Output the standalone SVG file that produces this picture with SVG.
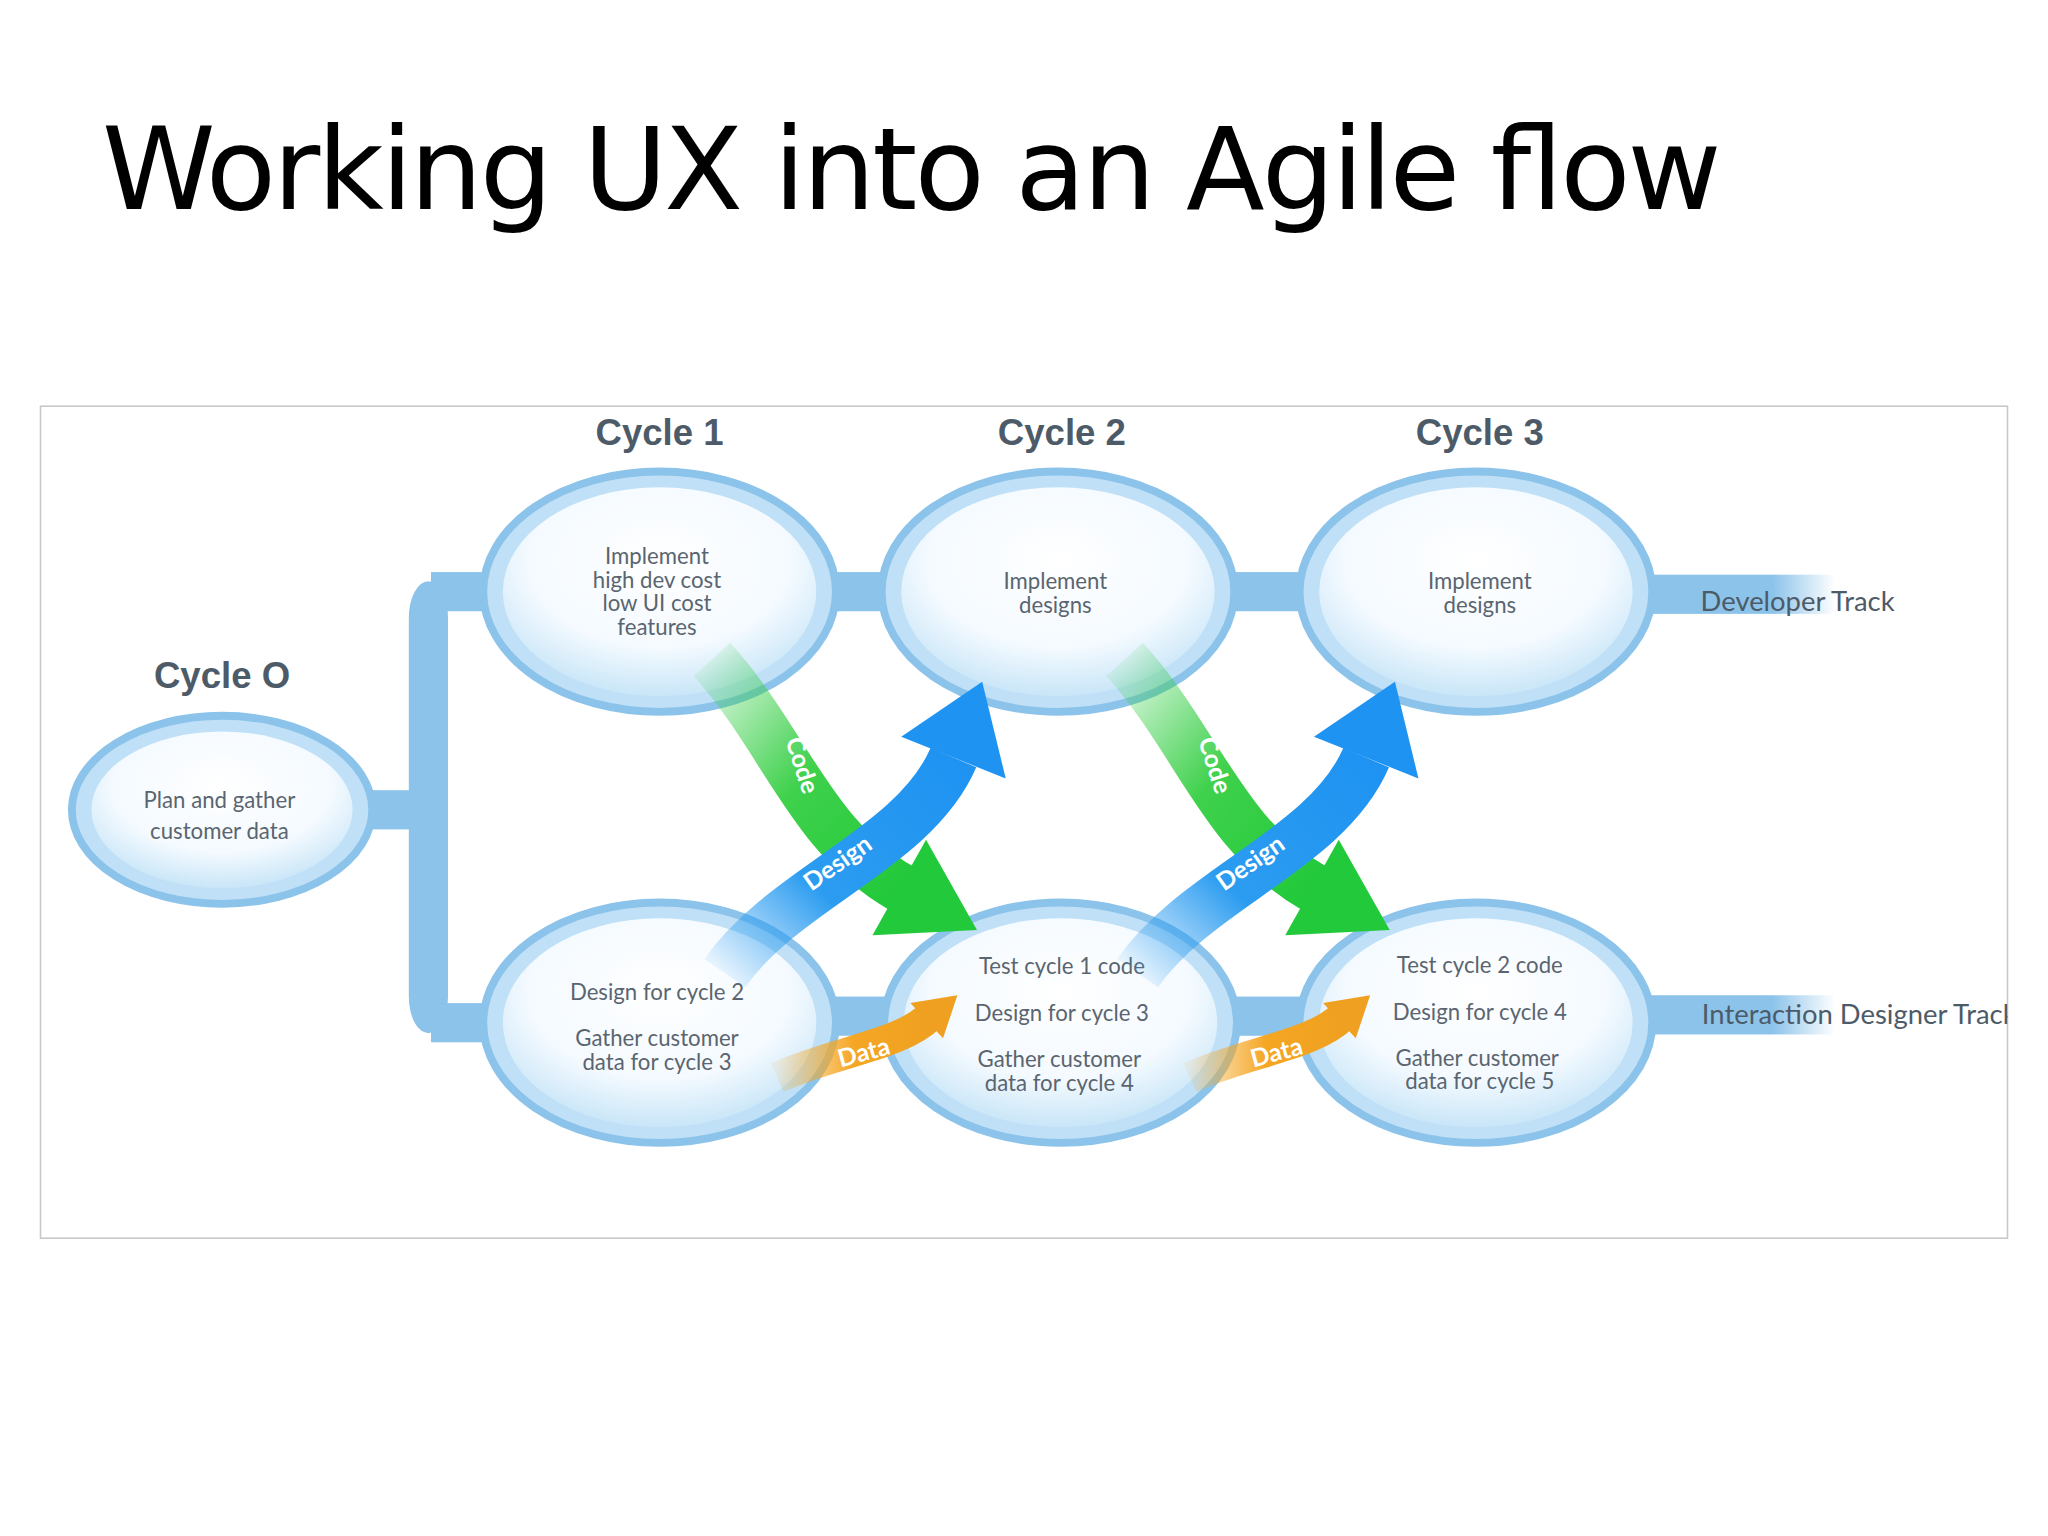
<svg xmlns="http://www.w3.org/2000/svg" width="2048" height="1536" viewBox="0 0 2048 1536">
<defs>
<radialGradient id="eg" cx="0.5" cy="0.35" r="0.7">
<stop offset="0" stop-color="#ffffff"/><stop offset="0.6" stop-color="#f4faff"/><stop offset="1" stop-color="#bfe1f6"/>
</radialGradient>
<linearGradient id="gg" x1="0" y1="0" x2="1" y2="1"><stop offset="0" stop-color="#2ecc40" stop-opacity="0.1"/><stop offset="0.5" stop-color="#3fd14c"/><stop offset="1" stop-color="#22c93a"/></linearGradient>
<linearGradient id="bg" x1="0" y1="1" x2="1" y2="0"><stop offset="0" stop-color="#2b9cf0" stop-opacity="0.1"/><stop offset="0.4" stop-color="#2b9cf0"/><stop offset="1" stop-color="#1f93f2"/></linearGradient>
<linearGradient id="og" x1="0" y1="0" x2="1" y2="0"><stop offset="0" stop-color="#f5a623" stop-opacity="0.1"/><stop offset="0.5" stop-color="#f5a623"/><stop offset="1" stop-color="#f0a020"/></linearGradient>
<linearGradient id="tg" x1="0" y1="0" x2="1" y2="0"><stop offset="0" stop-color="#8cc3ea"/><stop offset="0.7" stop-color="#8cc3ea"/><stop offset="1" stop-color="#8cc3ea" stop-opacity="0"/></linearGradient>
<clipPath id="fc"><rect x="31" y="311" width="1506" height="637"/></clipPath>
<style>
.bar{fill:#8cc3ea}
.eo{fill:#bfe0f6;stroke:#8cc3ea;stroke-width:6}
.ei{fill:url(#eg)}
.cy{font-family:"Liberation Sans",Arial,sans-serif;font-weight:bold;font-size:28px;fill:#4d5b69;text-anchor:middle}
.t{font-family:Lato,"Open Sans",sans-serif;font-size:17px;fill:#5a6570;text-anchor:middle}
.al{font-family:Lato,"Open Sans",sans-serif;font-weight:bold;font-size:19px;fill:#ffffff;text-anchor:middle}
</style>
</defs>
<rect width="2048" height="1536" fill="#ffffff"/>
<g transform="scale(1.30612)">
<text x="78" y="160" font-family="'DejaVu Sans',sans-serif" font-size="88" textLength="1240" fill="#000">Working UX into an Agile flow</text>
<rect x="31" y="311" width="1506" height="637" fill="#ffffff" stroke="#c8c8c8" stroke-width="1.2"/>
<g id="connectors">
<rect class="bar" x="280" y="605" width="50" height="30"/>
<rect class="bar" x="313" y="445" width="30" height="346" rx="28"/>
<rect class="bar" x="330" y="438" width="50" height="30"/>
<rect class="bar" x="330" y="768" width="50" height="30"/>
<rect class="bar" x="630" y="438" width="60" height="30"/>
<rect class="bar" x="935" y="438" width="70" height="30"/>
<rect class="bar" x="630" y="763" width="60" height="30"/>
<rect class="bar" x="935" y="763" width="70" height="30"/>
<rect x="1245" y="440" width="160" height="30" fill="url(#tg)"/>
<rect x="1245" y="762" width="160" height="30" fill="url(#tg)"/>
</g>
<g id="cycle0"><ellipse class="eo" cx="170" cy="620" rx="115" ry="72"/><ellipse class="ei" cx="170" cy="620" rx="100" ry="60"/>
<text class="t" x="168" y="619">Plan and gather</text><text class="t" x="168" y="642">customer data</text></g>
<g id="top1"><ellipse class="eo" cx="505" cy="453" rx="135" ry="92"/><ellipse class="ei" cx="505" cy="453" rx="120" ry="80"/>
<text class="t" x="503" y="432">Implement</text><text class="t" x="503" y="450">high dev cost</text><text class="t" x="503" y="468">low UI cost</text><text class="t" x="503" y="486">features</text></g>
<g id="top2"><ellipse class="eo" cx="810" cy="453" rx="135" ry="92"/><ellipse class="ei" cx="810" cy="453" rx="120" ry="80"/>
<text class="t" x="808" y="451">Implement</text><text class="t" x="808" y="469">designs</text></g>
<g id="top3"><ellipse class="eo" cx="1130" cy="453" rx="135" ry="92"/><ellipse class="ei" cx="1130" cy="453" rx="120" ry="80"/>
<text class="t" x="1133" y="451">Implement</text><text class="t" x="1133" y="469">designs</text></g>
<g id="bot1"><ellipse class="eo" cx="505" cy="783" rx="135" ry="92"/><ellipse class="ei" cx="505" cy="783" rx="120" ry="80"/>
<text class="t" x="503" y="766">Design for cycle 2</text><text class="t" x="503" y="801">Gather customer</text><text class="t" x="503" y="819">data for cycle 3</text></g>
<g id="bot2"><ellipse class="eo" cx="812" cy="783" rx="135" ry="92"/><ellipse class="ei" cx="812" cy="783" rx="120" ry="80"/>
<text class="t" x="813" y="746">Test cycle 1 code</text><text class="t" x="813" y="782">Design for cycle 3</text><text class="t" x="811" y="817">Gather customer</text><text class="t" x="811" y="835">data for cycle 4</text></g>
<g id="bot3"><ellipse class="eo" cx="1130" cy="783" rx="135" ry="92"/><ellipse class="ei" cx="1130" cy="783" rx="120" ry="80"/>
<text class="t" x="1133" y="745">Test cycle 2 code</text><text class="t" x="1133" y="781">Design for cycle 4</text><text class="t" x="1131" y="816">Gather customer</text><text class="t" x="1133" y="834">data for cycle 5</text></g>
<text class="cy" x="505" y="341">Cycle 1</text><text class="cy" x="813" y="341">Cycle 2</text><text class="cy" x="1133" y="341">Cycle 3</text><text class="cy" x="170" y="527">Cycle O</text>
<text x="1302" y="468" font-family="Lato,'Open Sans',sans-serif" font-size="21" fill="#4d5b69">Developer Track</text>
<text x="1303" y="784" clip-path="url(#fc)" font-family="Lato,'Open Sans',sans-serif" font-size="21" fill="#4d5b69">Interaction Designer Track</text>
<g id="arrows">
<g id="pair1">
<path d="M545,505 C600,565 620,640 690,680" fill="none" stroke="url(#gg)" stroke-width="38"/>
<polygon points="748,712 668,716 709,643" fill="#22c93a"/>
<path d="M555,745 C600,680 700,650 730,580" fill="none" stroke="url(#bg)" stroke-width="38"/>
<polygon points="752,522 770,596 690,564" fill="#1f93f2"/>
<path d="M595,825 C640,805 690,800 712,778" fill="none" stroke="url(#og)" stroke-width="24"/>
<polygon points="733,762 722,795 697,768" fill="#f0a020"/>
<text class="al" transform="translate(608,588) rotate(72)">Code</text>
<text class="al" transform="translate(645,666) rotate(-35)">Design</text>
<text class="al" font-size="16" transform="translate(663,812) rotate(-15)">Data</text>
</g>
<g transform="translate(316,0)">
<path d="M545,505 C600,565 620,640 690,680" fill="none" stroke="url(#gg)" stroke-width="38"/>
<polygon points="748,712 668,716 709,643" fill="#22c93a"/>
<path d="M555,745 C600,680 700,650 730,580" fill="none" stroke="url(#bg)" stroke-width="38"/>
<polygon points="752,522 770,596 690,564" fill="#1f93f2"/>
<path d="M595,825 C640,805 690,800 712,778" fill="none" stroke="url(#og)" stroke-width="24"/>
<polygon points="733,762 722,795 697,768" fill="#f0a020"/>
<text class="al" transform="translate(608,588) rotate(72)">Code</text>
<text class="al" transform="translate(645,666) rotate(-35)">Design</text>
<text class="al" font-size="16" transform="translate(663,812) rotate(-15)">Data</text>
</g>
</g>
</g>
</svg>
